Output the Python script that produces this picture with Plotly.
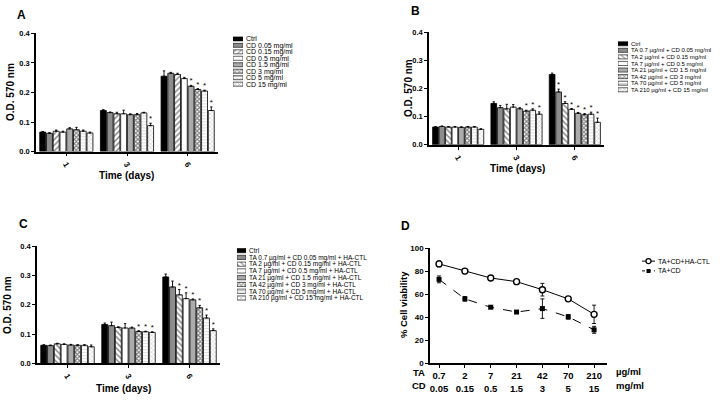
import plotly.graph_objects as go

# ---------------- data ----------------
days = ["1", "3", "6"]

A_names = ["Ctrl", "CD 0.05 mg/ml", "CD 0.15 mg/ml", "CD 0.5 mg/ml",
           "CD 1.5 mg/ml", "CD 3 mg/ml", "CD 5 mg/ml", "CD 15 mg/ml"]
A_mean = [[0.066, 0.139, 0.255],
          [0.062, 0.132, 0.265],
          [0.069, 0.128, 0.261],
          [0.066, 0.128, 0.247],
          [0.077, 0.125, 0.221],
          [0.074, 0.125, 0.210],
          [0.069, 0.131, 0.205],
          [0.063, 0.088, 0.139]]
A_err = [[0.002, 0.003, 0.018],
         [0.002, 0.002, 0.003],
         [0.004, 0.005, 0.004],
         [0.003, 0.012, 0.004],
         [0.004, 0.003, 0.003],
         [0.008, 0.004, 0.003],
         [0.004, 0.002, 0.003],
         [0.003, 0.008, 0.012]]
A_sig = [[], [], [], [], ["6"], ["6"], ["6"], ["3", "6"]]

B_names = ["Ctrl", "TA 0.7 µg/ml + CD 0.05 mg/ml", "TA 2 µg/ml + CD 0.15 mg/ml",
           "TA 7 µg/ml + CD 0.5 mg/ml", "TA 21 µg/ml + CD 1.5 mg/ml",
           "TA 42 µg/ml + CD 3 mg/ml", "TA 70 µg/ml + CD 5 mg/ml",
           "TA 210 µg/ml + CD 15 mg/ml"]
B_mean = [[0.063, 0.147, 0.250],
          [0.065, 0.132, 0.188],
          [0.063, 0.128, 0.147],
          [0.063, 0.134, 0.126],
          [0.062, 0.128, 0.112],
          [0.063, 0.120, 0.107],
          [0.063, 0.123, 0.109],
          [0.055, 0.109, 0.080]]
B_err = [[0.002, 0.006, 0.005],
         [0.002, 0.008, 0.010],
         [0.002, 0.016, 0.006],
         [0.002, 0.009, 0.003],
         [0.002, 0.004, 0.003],
         [0.002, 0.003, 0.004],
         [0.002, 0.005, 0.007],
         [0.002, 0.008, 0.015]]
B_sig = [[], ["6"], ["6"], ["6"], ["6"], ["3", "6"], ["3", "6"], ["3", "6"]]

C_names = ["Ctrl", "TA 0.7 µg/ml + CD 0.05 mg/ml + HA-CTL",
           "TA 2 µg/ml + CD 0.15 mg/ml + HA-CTL",
           "TA 7 µg/ml + CD 0.5 mg/ml + HA-CTL",
           "TA 21 µg/ml + CD 1.5 mg/ml + HA-CTL",
           "TA 42 µg/ml + CD 3 mg/ml + HA-CTL",
           "TA 70 µg/ml + CD 5 mg/ml + HA-CTL",
           "TA 210 µg/ml + CD 15 mg/ml + HA-CTL"]
C_mean = [[0.062, 0.133, 0.295],
          [0.061, 0.129, 0.261],
          [0.067, 0.123, 0.234],
          [0.065, 0.121, 0.221],
          [0.063, 0.121, 0.217],
          [0.062, 0.109, 0.190],
          [0.062, 0.108, 0.155],
          [0.057, 0.106, 0.112]]
C_err = [[0.002, 0.005, 0.010],
         [0.002, 0.012, 0.020],
         [0.002, 0.002, 0.018],
         [0.002, 0.015, 0.020],
         [0.002, 0.003, 0.003],
         [0.002, 0.003, 0.008],
         [0.002, 0.002, 0.010],
         [0.006, 0.002, 0.006]]
C_sig = [[], [], ["6"], ["6"], ["6"], ["3", "6"], ["3", "6"], ["3", "6"]]

TA_conc = ["0.7", "2", "7", "21", "42", "70", "210"]
CD_conc = ["0.05", "0.15", "0.5", "1.5", "3", "5", "15"]
D_names = ["TA+CD+HA-CTL", "TA+CD"]
D_HA_mean = [86.5, 80.2, 74.2, 71.0, 64.0, 56.0, 42.5]
D_HA_err = [2.5, 2.2, 1.0, 1.0, 5.5, 1.0, 8.0]
D_TC_mean = [73.0, 56.0, 48.7, 44.5, 47.5, 40.3, 29.0]
D_TC_err = [3.0, 2.0, 1.0, 1.0, 8.5, 2.0, 3.0]

# ---------------- styles ----------------
W, H = 723, 402
FONT = "Liberation Sans, Arial, sans-serif"


def fx(p):
    return p / W


def fy(p):
    return 1 - p / H


FILL = ["black", "#8c8c8c", "white", "white", "#ababab", "white", "white", "white"]
PAT = ["", "", "/", "", "", "x", "-", "x"]
PATFG = ["black", "black", "black", "black", "black", "black", "#a8a8a8", "#8c8c8c"]
PATSOL = [0.3, 0.3, 0.35, 0.3, 0.3, 0.62, 0.25, 0.3]
PATSIZE = [4, 4, 4, 4, 4, 3, 3, 3]

fig = go.Figure()


def patterns(hatch):
    return [hatch if p == "/" else p for p in PAT]


def bar_panel(names, means, errs, sigs, xa, ya, hatch):
    pats = patterns(hatch)
    for i, name in enumerate(names):
        fig.add_trace(go.Bar(
            x=days, y=means[i], name=name, offsetgroup=str(i),
            xaxis=xa, yaxis=ya, showlegend=False,
            marker=dict(color=FILL[i], line=dict(color="black", width=0.8),
                        pattern=dict(shape=pats[i], fgcolor=PATFG[i], bgcolor=FILL[i],
                                     solidity=PATSOL[i], size=PATSIZE[i])),
            error_y=dict(type="data", array=errs[i], arrayminus=[0] * len(days),
                         symmetric=False, color="black", thickness=0.9, width=1.2),
        ))
    for i, name in enumerate(names):
        ys = [means[i][k] + errs[i][k] if d in sigs[i] else None for k, d in enumerate(days)]
        fig.add_trace(go.Bar(
            x=days, y=ys, offsetgroup=str(i), xaxis=xa, yaxis=ya, showlegend=False,
            marker=dict(color="rgba(0,0,0,0)", line=dict(width=0)),
            text=["*" if v is not None else "" for v in ys], textposition="outside",
            textangle=0, constraintext="none", cliponaxis=False,
            textfont=dict(size=8, color="black", family=FONT), hoverinfo="skip",
        ))


def legend_swatches(names, xa, ya, hatch):
    pats = patterns(hatch)
    fig.add_trace(go.Bar(
        x=[1] * len(names), y=names, orientation="h", width=0.62,
        xaxis=xa, yaxis=ya, showlegend=False, hoverinfo="skip",
        marker=dict(color=FILL, line=dict(color="black", width=0.6),
                    pattern=dict(shape=pats, fgcolor=PATFG, bgcolor=FILL,
                                 solidity=PATSOL, size=PATSIZE)),
    ))


bar_panel(A_names, A_mean, A_err, A_sig, "x", "y", "/")
bar_panel(B_names, B_mean, B_err, B_sig, "x2", "y2", "\\")
bar_panel(C_names, C_mean, C_err, C_sig, "x3", "y3", "\\")

legend_swatches(A_names, "x5", "y5", "/")
legend_swatches(B_names, "x6", "y6", "\\")
legend_swatches(C_names, "x7", "y7", "\\")

# panel D
fig.add_trace(go.Scatter(
    x=TA_conc, y=D_HA_mean, name=D_names[0], mode="lines+markers",
    xaxis="x4", yaxis="y4", showlegend=False,
    line=dict(color="black", width=1),
    marker=dict(symbol="circle", size=6, color="white", line=dict(color="black", width=1.4)),
    error_y=dict(type="data", array=D_HA_err, color="black", thickness=0.9, width=2),
))
fig.add_trace(go.Scatter(
    x=TA_conc, y=D_TC_mean, name=D_names[1], mode="lines+markers",
    xaxis="x4", yaxis="y4", showlegend=False,
    line=dict(color="black", width=1, dash="dash"),
    marker=dict(symbol="square", size=5, color="black"),
    error_y=dict(type="data", array=D_TC_err, color="black", thickness=0.9, width=2),
))
# legend glyphs for D
for nm, dash, mk in [(D_names[0], "solid", dict(symbol="circle", size=5, color="white",
                                                   line=dict(color="black", width=1.3))),
                     (D_names[1], "dot", dict(symbol="square", size=4, color="black"))]:
    fig.add_trace(go.Scatter(x=[0, 1], y=[nm, nm], mode="lines", xaxis="x8", yaxis="y8",
                             line=dict(color="black", width=1, dash=dash),
                             showlegend=False, hoverinfo="skip"))
    fig.add_trace(go.Scatter(x=[0.5], y=[nm], mode="markers", xaxis="x8", yaxis="y8",
                             marker=mk, showlegend=False, hoverinfo="skip"))

# ---------------- axes ----------------
tickfont_small = dict(family=FONT, size=7.5, color="black", weight="bold")


def bar_axes(xn, yn, xdom, ydom):
    fig.layout[xn] = dict(domain=xdom, anchor=yn.replace("axis", ""), type="category",
                          categoryorder="array", categoryarray=days,
                          tickmode="array", tickvals=days, ticktext=days,
                          range=[-0.5, 2.5], showline=True, linecolor="black", linewidth=1.6,
                          ticks="outside", ticklen=3, tickwidth=1, tickcolor="black",
                          tickangle=60, tickfont=dict(family=FONT, size=8, color="black", weight="bold"),
                          showgrid=False, zeroline=False, fixedrange=True)
    fig.layout[yn] = dict(domain=ydom, anchor=xn.replace("axis", ""), range=[0, 0.4],
                          tickmode="array", tickvals=[0, 0.1, 0.2, 0.3, 0.4],
                          ticktext=["0.0", "0.1", "0.2", "0.3", "0.4"],
                          showline=True, linecolor="black", linewidth=1.6,
                          ticks="outside", ticklen=3, tickwidth=1, tickcolor="black",
                          tickfont=tickfont_small, showgrid=False, zeroline=False)


bar_axes("xaxis", "yaxis", [fx(36), fx(218)], [fy(151), fy(30)])
bar_axes("xaxis2", "yaxis2", [fx(429), fx(604)], [fy(144), fy(29)])
bar_axes("xaxis3", "yaxis3", [fx(37), fx(220)], [fy(367.7), fy(247.7)])


def legend_axes(xn, yn, xdom, ydom, names, fsize):
    n = len(names)
    fig.layout[xn] = dict(domain=xdom, anchor=yn.replace("axis", ""), range=[0, 1],
                          visible=False, fixedrange=True)
    fig.layout[yn] = dict(domain=ydom, anchor=xn.replace("axis", ""), type="category",
                          categoryorder="array", categoryarray=names,
                          range=[n - 0.5, -0.5], side="right", showline=False,
                          showgrid=False, zeroline=False, ticks="",
                          tickmode="array", tickvals=names, ticktext=names,
                          ticklabelstandoff=2,
                          tickfont=dict(family=FONT, size=fsize, color="black"))


legend_axes("xaxis5", "yaxis5", [fx(233), fx(243)], [fy(85.3), fy(32.4)], A_names, 7)
legend_axes("xaxis6", "yaxis6", [fx(618), fx(628)], [fy(91.1), fy(37.3)], B_names, 6)
legend_axes("xaxis7", "yaxis7", [fx(237), fx(246)], [fy(304.2), fy(248.8)], C_names, 6.5)
legend_axes("xaxis8", "yaxis8", [fx(642), fx(655)], [fy(278), fy(258)], D_names, 7)

fig.layout["xaxis4"] = dict(domain=[fx(430), fx(607)], anchor="y4", type="category",
                            categoryorder="array", categoryarray=TA_conc,
                            tickmode="array", tickvals=TA_conc,
                            ticktext=[f"{a}<br>{c}" for a, c in zip(TA_conc, CD_conc)],
                            range=[-0.35, 6.5], showline=True, linecolor="black", linewidth=1.6,
                            ticks="outside", ticklen=3, tickwidth=1, tickcolor="black",
                            tickfont=dict(family=FONT, size=9.5, color="black", weight="bold"),
                            showgrid=False, zeroline=False)
fig.layout["yaxis4"] = dict(domain=[fy(367.3), fy(250)], anchor="x4", range=[0, 100],
                            tickmode="array", tickvals=[0, 20, 40, 60, 80, 100],
                            showline=True, linecolor="black", linewidth=1.6,
                            ticks="outside", ticklen=3, tickwidth=1, tickcolor="black",
                            tickfont=dict(family=FONT, size=8, color="black", weight="bold"),
                            showgrid=False, zeroline=False)

# ---------------- annotations ----------------
ann = []


def text(x, y, s, size, bold=True, angle=0, xanchor="center"):
    ann.append(dict(x=fx(x), y=fy(y), xref="paper", yref="paper", text=s, showarrow=False,
                    textangle=angle, xanchor=xanchor, yanchor="middle",
                    font=dict(family=FONT, size=size, color="black",
                              weight="bold" if bold else "normal")))


text(21, 11, "A", 12)
text(416, 7, "B", 12)
text(23, 225, "C", 12)
text(405, 227, "D", 12)

text(11, 90, "O.D. 570 nm", 10, angle=-90)
text(408, 86, "O.D. 570 nm", 10, angle=-90)
text(7, 308, "O.D. 570 nm", 10, angle=-90)
text(403, 308, "% Cell viability", 9.5, angle=-90)

text(127, 175, "Time (days)", 10)
text(517, 168, "Time (days)", 10)
text(123, 393, "Time (days)", 10)

text(419, 377, "TA", 9.5)
text(419, 390, "CD", 9.5)
text(614, 376, "µg/ml", 9.5, xanchor="left")
text(614, 390, "mg/ml", 9.5, xanchor="left")

fig.update_layout(
    width=W, height=H, margin=dict(l=0, r=0, t=0, b=0),
    paper_bgcolor="white", plot_bgcolor="white",
    barmode="group", bargap=0.11, bargroupgap=0.12,
    font=dict(family=FONT, color="black"),
    annotations=ann, showlegend=False,
)

fig.write_html("out.html", config={"displayModeBar": False},
               post_script="document.body.style.margin='0';")
